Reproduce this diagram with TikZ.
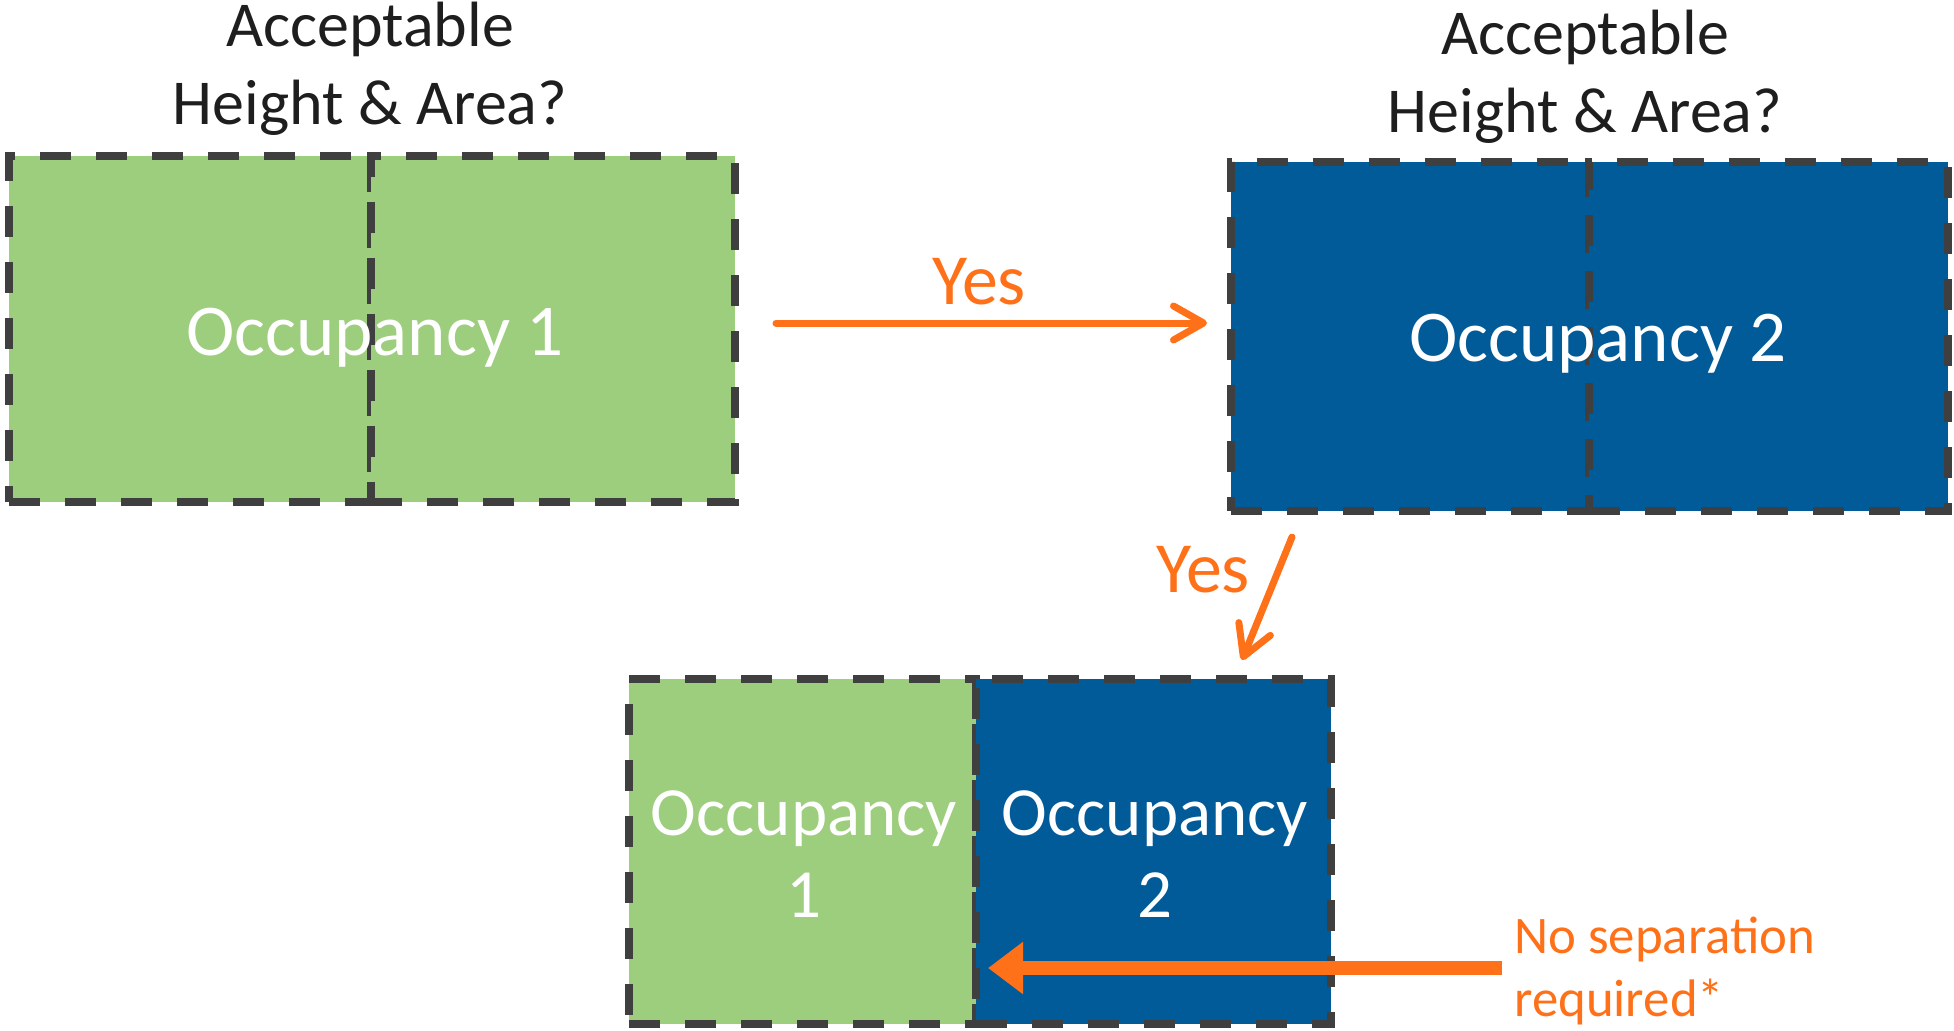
\documentclass[tikz,border=0pt]{standalone}
\usepackage{fontspec}
\setmainfont{Carlito}
\usetikzlibrary{arrows.meta,calc}
\definecolor{occgreen}{HTML}{9DCE7D}
\definecolor{occblue}{HTML}{025B99}
\definecolor{edgegray}{HTML}{3F3F3F}
\definecolor{signal}{HTML}{FF7119}
\definecolor{inkdark}{HTML}{1E1E1E}
\begin{document}
\begin{tikzpicture}[x=0.5pt,y=-0.5pt,
  room/.style={draw=edgegray, line width=4pt, dash pattern=on 15.5pt off 12.5pt,
               inner sep=0pt, outer sep=0pt, anchor=north west},
  roomlabel/.style={text=white, font=\fontsize{36.5pt}{44pt}\selectfont, anchor=base, inner sep=0pt},
  pairlabel/.style={text=white, font=\fontsize{34.5pt}{41pt}\selectfont, align=center, anchor=base, inner sep=0pt},
  question/.style={text=inkdark, font=\fontsize{32pt}{39pt}\selectfont, align=center, anchor=base, inner sep=0pt},
  answer/.style={text=signal, font=\fontsize{36pt}{43pt}\selectfont, anchor=base, inner sep=0pt},
  yesarrow/.style={draw=signal, line width=3.5pt, line cap=round,
                   -{Straight Barb[length=15pt,width=17pt,round]}},
  sepnote/.style={text=signal, font=\fontsize{26.4pt}{31.5pt}\selectfont, align=left,
                  anchor=base west, inner sep=0pt},
  separrow/.style={draw=signal, line width=7pt, -{Triangle[length=17.5pt,width=25pt]}}]

\useasboundingbox (0,0) rectangle (1954,1030);

% occupancy 1 on its own (anchor base = baseline of the last line)
\node[room, fill=occgreen, minimum width=181pt, minimum height=173pt] (g1l) at (9,156) {};
\node[room, fill=occgreen, minimum width=182pt, minimum height=173pt] (g1r) at (371,156) {};
\node[roomlabel] (occ1) at (375,355) {Occupancy 1};
\node[question] (q1) at (370,124) {Acceptable\\Height \& Area?};

% occupancy 2 on its own
\node[room, fill=occblue, minimum width=179pt, minimum height=174.5pt] (b1l) at (1231,162) {};
\node[room, fill=occblue, minimum width=179.5pt, minimum height=174.5pt] (b1r) at (1589,162) {};
\node[roomlabel] (occ2) at (1598,361) {Occupancy 2};
\node[question] (q2) at (1585,132) {Acceptable\\Height \& Area?};

% combined building
\node[room, fill=occgreen, minimum width=173.5pt, minimum height=172.5pt] (p1) at (629,679) {};
\node[room, fill=occblue, minimum width=177.5pt, minimum height=172.5pt] (p2) at (976,679) {};
\node[pairlabel] (pl1) at (804,917) {Occupancy\\1};
\node[pairlabel] (pl2) at (1155,917) {Occupancy\\2};

% decisions
\draw[yesarrow] ($(g1r.east)+(41,-6)$) -- ($(b1l.west)+(-24,-13.5)$);
\node[answer] (yes1) at (979,304) {Yes};
\draw[yesarrow] ($(b1l.south east)+(-297,26)$) -- ($(p2.north west)+(266,-19)$);
\node[answer] (yes2) at (1203,592) {Yes};

% separation note
\node[sepnote] (note) at (1514,1016) {No separation\\required*};
\coordinate (noteend) at (1502,968);
\draw[separrow] (noteend) -- ($(p2.west |- noteend)+(12,0)$);
\end{tikzpicture}
\end{document}
